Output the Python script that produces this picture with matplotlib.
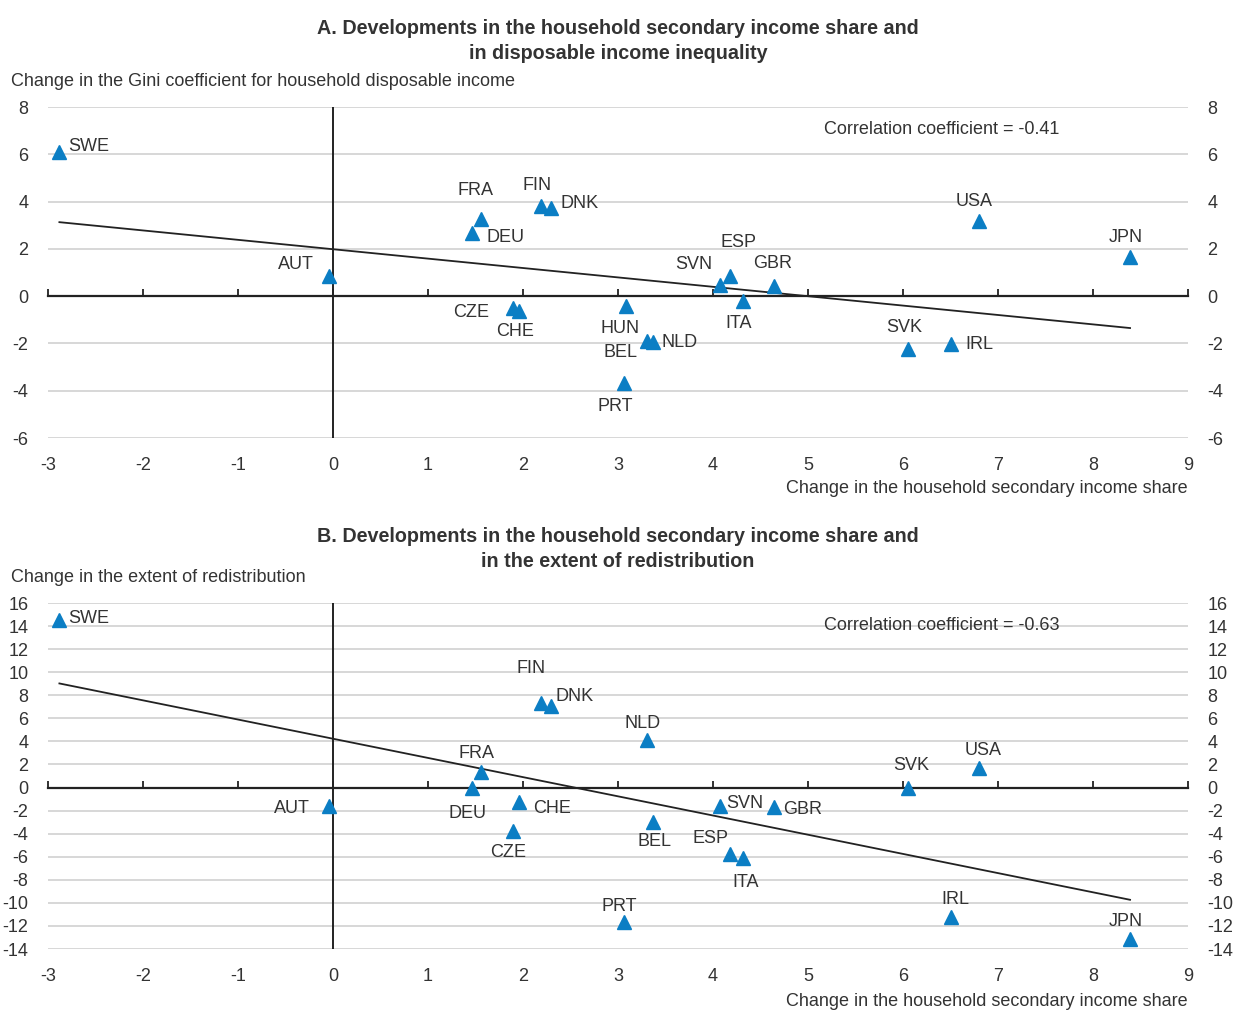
import numpy as np
import matplotlib
matplotlib.use("Agg")
import matplotlib.pyplot as plt
from matplotlib import font_manager

# Country codes and the change in household secondary income share (x)
countries = ["SWE", "AUT", "FRA", "DEU", "FIN", "DNK", "CZE", "CHE", "HUN", "BEL",
             "NLD", "PRT", "SVN", "ESP", "ITA", "GBR", "SVK", "IRL", "USA", "JPN"]
secondary_share = [-2.88, -0.04, 1.56, 1.46, 2.19, 2.29, 1.89, 1.96, 3.08, 3.37,
                   3.31, 3.06, 4.07, 4.18, 4.32, 4.64, 6.05, 6.51, 6.80, 8.39]

# Panel A: change in Gini coefficient (disposable income)
gini_change = [6.1, 0.85, 3.25, 2.65, 3.8, 3.72, -0.5, -0.63, -0.42, -1.95,
               -1.9, -3.68, 0.47, 0.85, -0.2, 0.42, -2.24, -2.03, 3.17, 1.65]
# Panel B: change in the extent of redistribution (no value for HUN)
redistribution_change = [14.5, -1.6, 1.36, -0.05, 7.35, 7.1, -3.75, -1.24, None, -3.0,
                         4.1, -11.7, -1.6, -5.75, -6.1, -1.7, 0.0, -11.2, 1.7, -13.1]

corr_a = "-0.41"
corr_b = "-0.63"

# label placement (pixel offsets from marker, horizontal alignment)
labels_a = {
    "SWE": (9, 5, "left"), "AUT": (-15, 12, "right"), "FRA": (-6, 29, "center"),
    "DEU": (15, -4, "left"), "FIN": (-4, 21, "center"), "DNK": (10, 5, "left"),
    "CZE": (-23, -5, "right"), "CHE": (-4, -20, "center"), "HUN": (-6, -22, "center"),
    "BEL": (-33, -10, "center"), "NLD": (14, -1, "left"), "PRT": (-8, -23, "center"),
    "SVN": (-26, 21, "center"), "ESP": (8, 34, "center"), "ITA": (-5, -23, "center"),
    "GBR": (-1, 23, "center"), "SVK": (-4, 22, "center"), "IRL": (14, 0, "left"),
    "USA": (-5, 20, "center"), "JPN": (-4, 20, "center"),
}
labels_b = {
    "SWE": (9, 2, "left"), "AUT": (-19, -3, "right"), "FRA": (-5, 18, "center"),
    "DEU": (-4, -25, "center"), "FIN": (-10, 34, "center"), "DNK": (5, 9, "left"),
    "CZE": (-4, -22, "center"), "CHE": (14, -7, "left"), "BEL": (1, -19, "center"),
    "NLD": (-5, 17, "center"), "PRT": (-4, 16, "center"), "SVN": (7, 2, "left"),
    "ESP": (-20, 15, "center"), "ITA": (2, -25, "center"), "GBR": (9, -2, "left"),
    "SVK": (3, 22, "center"), "IRL": (4, 17, "center"), "USA": (4, 17, "center"),
    "JPN": (-4, 17, "center"),
}

installed = {f.name for f in font_manager.fontManager.ttflist}
fam = "Liberation Sans Narrow" if "Liberation Sans Narrow" in installed else "Liberation Sans"
plt.rcParams["font.family"] = [fam, "DejaVu Sans"]
plt.rcParams["axes.unicode_minus"] = False

TXT = "#333333"
BLUE = "#0b7ec4"
GRID = "#d4d4d4"
FS = 13

fig = plt.figure(figsize=(12.34, 10.11), dpi=100)
W, H = 1234, 1011


def panel(rect, y, yticks, labels, corr, title, ylabel, title_y, ylabel_y, corr_y, xlabel_y):
    ax = fig.add_axes(rect)
    ax.set_xlim(-3, 9)
    ax.set_ylim(yticks[0], yticks[-1])
    ax.set_yticks(yticks)
    ax.set_yticklabels([str(t) for t in yticks])
    ax.set_xticks(range(-3, 10))
    ax.grid(axis="y", color=GRID, lw=1.3)
    ax.set_axisbelow(True)
    for s in ["top", "right", "left"]:
        ax.spines[s].set_visible(False)
    # zero line doubles as the x axis, ticks pointing up
    ax.spines["bottom"].set_position(("data", 0))
    ax.spines["bottom"].set_color("#222222")
    ax.spines["bottom"].set_linewidth(1.6)
    ax.tick_params(axis="x", direction="in", length=5, width=1.3, color="#222222",
                   labelbottom=False)
    ax.tick_params(axis="y", length=0, labelsize=FS, colors=TXT, pad=14,
                   labelleft=True, labelright=True)
    ax.axvline(0, color="#222222", lw=1.4, zorder=2)

    # x tick labels sit under the plot area
    sec = ax.secondary_xaxis(0.0)
    sec.set_xticks(range(-3, 10))
    sec.spines["bottom"].set_visible(False)
    sec.tick_params(length=0, labelsize=FS, colors=TXT, pad=14)

    xs = [x for x, v in zip(secondary_share, y) if v is not None]
    ys = [v for v in y if v is not None]
    k, b = np.polyfit(xs, ys, 1)
    xl = np.array([min(xs), max(xs)])
    ax.plot(xl, k * xl + b, color="#222222", lw=1.3, zorder=3)

    ax.plot(xs, ys, ls="none", marker="^", ms=9.5, color=BLUE, zorder=4)
    for c, x, v in zip(countries, secondary_share, y):
        if v is None or c not in labels:
            continue
        dx, dy, ha = labels[c]
        ax.annotate(c, (x, v), xytext=(dx, dy), textcoords="offset pixels",
                    ha=ha, va="center", fontsize=FS, color=TXT, zorder=5)

    fig.text(618 / W, 1 - title_y / H, title, ha="center", va="center",
             fontsize=14.2, fontweight="bold", color=TXT, linespacing=1.35)
    fig.text(11 / W, 1 - ylabel_y / H, ylabel, ha="left", va="center",
             fontsize=FS, color=TXT)
    fig.text(1188 / W, 1 - xlabel_y / H, "Change in the household secondary income share",
             ha="right", va="center", fontsize=FS, color=TXT)
    fig.text(824 / W, 1 - corr_y / H, "Correlation coefficient = " + corr,
             ha="left", va="center", fontsize=FS, color=TXT)
    return ax


panel([48 / W, 1 - 438 / H, 1140 / W, 331 / H], gini_change, list(range(-6, 9, 2)),
      labels_a, corr_a,
      "A. Developments in the household secondary income share and\nin disposable income inequality",
      "Change in the Gini coefficient for household disposable income",
      41, 82, 129, 489)

panel([48 / W, 1 - 949 / H, 1140 / W, 346 / H], redistribution_change, list(range(-14, 17, 2)),
      labels_b, corr_b,
      "B. Developments in the household secondary income share and\nin the extent of redistribution",
      "Change in the extent of redistribution",
      549, 578, 625, 1001)

fig.savefig("out.png", dpi=100)
